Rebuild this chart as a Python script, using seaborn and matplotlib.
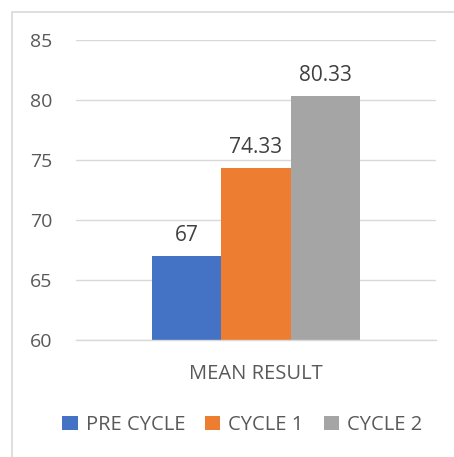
import matplotlib
matplotlib.use("Agg")
import matplotlib.pyplot as plt
import seaborn as sns
import pandas as pd
from matplotlib.patches import Rectangle

categories = ["MEAN RESULT"]
series = ["PRE CYCLE", "CYCLE 1", "CYCLE 2"]
values = [67, 74.33, 80.33]
value_labels = ["67", "74.33", "80.33"]
colors = ["#4472C4", "#ED7D31", "#A5A5A5"]
yticks = [60, 65, 70, 75, 80, 85]

sns.set_theme(style="white")
plt.rcParams["font.family"] = ["Open Sans", "DejaVu Sans"]

df = pd.DataFrame({"cat": categories * len(series), "series": series, "value": values})

fig = plt.figure(figsize=(4.54, 4.57), dpi=100)
ax = fig.add_axes([76/454, 1-340/457, 360/454, 300/457])
sns.barplot(data=df, x="cat", y="value", hue="series", hue_order=series,
            palette=colors, width=0.578, ax=ax, saturation=1, legend=True,
            linewidth=0, edgecolor="none")

ax.set_ylim(60, 85)
ax.set_yticks(yticks)
ax.set_xlim(-0.5, 0.5)
ax.yaxis.grid(True, color="#D9D9D9", linewidth=1)
ax.set_axisbelow(True)
for s in ["left", "right", "top"]:
    ax.spines[s].set_visible(False)
ax.spines["bottom"].set_color("#D9D9D9")
ax.spines["bottom"].set_linewidth(1)
ax.tick_params(axis="y", length=0, labelsize=14, colors="#595959", pad=17)
ax.tick_params(axis="x", length=0, labelsize=14.5, colors="#595959", pad=17)
ax.set_xlabel("")
ax.set_ylabel("")

for cont, lab in zip(ax.containers, value_labels):
    ax.bar_label(cont, labels=[lab], padding=7, fontsize=15, color="#404040")

handles, labels = ax.get_legend_handles_labels()
ax.get_legend().remove()
fig.legend(handles, labels, loc="center", bbox_to_anchor=(0.534, 1-425/457), ncol=3,
           frameon=False, fontsize=14.5, handlelength=0.75, handleheight=0.75,
           handletextpad=0.4, columnspacing=1.0, labelcolor="#595959")

fig.patches.append(Rectangle((12/454, -0.1), 1.2, (457-12)/457 + 0.1,
                             transform=fig.transFigure, fill=False,
                             edgecolor="#D9D9D9", linewidth=1.2))

fig.savefig("out.png", dpi=100, facecolor="white")
